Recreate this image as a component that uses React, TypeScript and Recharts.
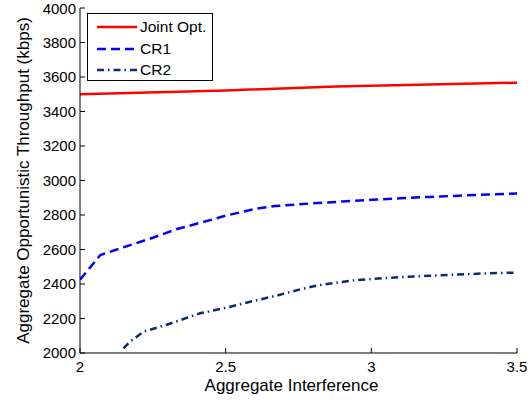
import { Label, Line, LineChart, XAxis, YAxis } from "recharts";

const FONT = '"Liberation Sans", Arial, Helvetica, sans-serif';

// x values are aggregate interference, y values throughput in kbps
const jointX = [2.0, 2.5, 2.88, 3.5];
const jointY = [3500, 3522, 3545, 3567];

const cr1X = [2.0, 2.07, 2.155, 2.25, 2.33, 2.42, 2.5, 2.6, 2.67, 2.8, 2.9, 3.0, 3.1, 3.2, 3.3, 3.4, 3.5];
const cr1Y = [2425, 2568, 2616, 2668, 2717, 2758, 2796, 2835, 2852, 2868, 2878, 2888, 2897, 2905, 2912, 2919, 2925];

const cr2X = [2.149, 2.172, 2.218, 2.3, 2.412, 2.5, 2.584, 2.68, 2.756, 2.82, 2.87, 2.94, 3.0, 3.1, 3.2, 3.3, 3.4, 3.5];
const cr2Y = [2027, 2066, 2124, 2165, 2230, 2262, 2297, 2335, 2369, 2393, 2405, 2421, 2429, 2440, 2448, 2455, 2462, 2466];

const xTicks = [2, 2.5, 3, 3.5];
const yTicks = [2000, 2200, 2400, 2600, 2800, 3000, 3200, 3400, 3600, 3800, 4000];

const toRows = (xs: number[], ys: number[]) => xs.map((x, i) => ({ x, y: ys[i] }));

const series = [
  { name: "Joint Opt.", rows: toRows(jointX, jointY), color: "#ff0000", dash: undefined },
  { name: "CR1", rows: toRows(cr1X, cr1Y), color: "#0000ff", dash: "9 5" },
  { name: "CR2", rows: toRows(cr2X, cr2Y), color: "#0b2a6f", dash: "7 4 1.5 4" },
];

const tickStyle = { fontSize: 15, fill: "#000", fontFamily: FONT };

const YTitle = ({ viewBox }: any) => {
  const cx = viewBox.x + 23;
  const cy = viewBox.y + viewBox.height / 2;
  return (
    <text
      x={cx}
      y={cy}
      transform={`rotate(-90, ${cx}, ${cy})`}
      textAnchor="middle"
      dominantBaseline="central"
      fontSize={17}
      fontFamily={FONT}
      fill="#000"
    >
      Aggregate Opportunistic Throughput (kbps)
    </text>
  );
};

const XTitle = ({ viewBox }: any) => (
  <text
    x={viewBox.x + viewBox.width / 2 - 7}
    y={viewBox.y + 32}
    textAnchor="middle"
    dominantBaseline="central"
    fontSize={17}
    fontFamily={FONT}
    fill="#000"
  >
    Aggregate Interference
  </text>
);

export default function App() {
  return (
    <div style={{ position: "absolute", left: 0, top: 0, width: 532, height: 400, background: "#fff" }}>
      <LineChart width={532} height={400} margin={{ top: 8, right: 15, bottom: 0, left: 0 }}>
        <XAxis
          xAxisId="bottom"
          dataKey="x"
          type="number"
          domain={[2, 3.5]}
          ticks={xTicks}
          height={47}
          stroke="#000"
          tickSize={-5}
          tickMargin={13}
          tick={tickStyle}
          allowDataOverflow
        >
          <Label content={XTitle} />
        </XAxis>
        <XAxis
          xAxisId="top"
          dataKey="x"
          type="number"
          orientation="top"
          domain={[2, 3.5]}
          ticks={xTicks}
          height={0}
          stroke="#000"
          tickSize={-5}
          tick={false}
        />
        <YAxis
          yAxisId="left"
          type="number"
          domain={[2000, 4000]}
          ticks={yTicks}
          width={80}
          stroke="#000"
          tickSize={-5}
          tickMargin={9}
          tick={tickStyle}
          allowDataOverflow
        >
          <Label content={YTitle} />
        </YAxis>
        <YAxis
          yAxisId="right"
          type="number"
          orientation="right"
          domain={[2000, 4000]}
          ticks={yTicks}
          width={0}
          stroke="#000"
          tickSize={-5}
          tick={false}
        />
        {series.map((s) => (
          <Line
            key={s.name}
            xAxisId="bottom"
            yAxisId="left"
            data={s.rows}
            dataKey="y"
            name={s.name}
            type="linear"
            stroke={s.color}
            strokeWidth={2.5}
            strokeDasharray={s.dash}
            dot={false}
            activeDot={false}
            isAnimationActive={false}
          />
        ))}
      </LineChart>
      <div
        style={{
          position: "absolute",
          left: 87,
          top: 13,
          width: 126,
          height: 68,
          border: "1px solid #000",
          background: "#fff",
          fontFamily: FONT,
          fontSize: 15.5,
          boxSizing: "border-box",
        }}
      >
        {series.map((s, i) => (
          <div
            key={s.name}
            style={{ position: "absolute", left: 0, top: 3 + i * 21.5, height: 20, display: "flex", alignItems: "center" }}
          >
            <svg width={52} height={20} style={{ display: "block" }}>
              <line x1={9} x2={49} y1={10} y2={10} stroke={s.color} strokeWidth={2.5} strokeDasharray={s.dash} />
            </svg>
            <span style={{ color: "#000", lineHeight: "20px" }}>{s.name}</span>
          </div>
        ))}
      </div>
    </div>
  );
}
